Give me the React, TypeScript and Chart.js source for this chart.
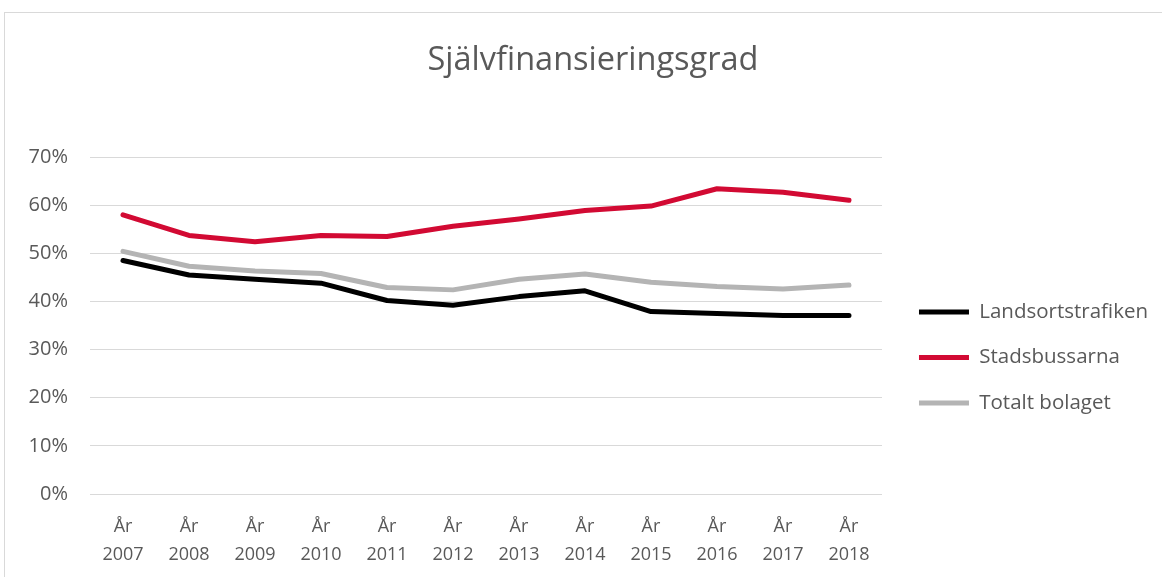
import React, { useEffect, useRef } from "react";
import { Chart, registerables } from "chart.js";

Chart.register(...registerables);

const categories: string[][] = [
  ["År", "2007"], ["År", "2008"], ["År", "2009"], ["År", "2010"],
  ["År", "2011"], ["År", "2012"], ["År", "2013"], ["År", "2014"],
  ["År", "2015"], ["År", "2016"], ["År", "2017"], ["År", "2018"],
];
const landsort = [48.5, 45.5, 44.6, 43.8, 40.2, 39.2, 41.0, 42.2, 37.9, 37.5, 37.1, 37.1];
const stadsbussarna = [58.0, 53.7, 52.4, 53.7, 53.5, 55.6, 57.1, 58.9, 59.8, 63.4, 62.7, 61.0];
const totalt = [50.4, 47.3, 46.3, 45.8, 42.9, 42.4, 44.6, 45.7, 44.0, 43.1, 42.6, 43.4];
const seriesNames = ["Landsortstrafiken", "Stadsbussarna", "Totalt bolaget"];
const seriesColors = ["#000000", "#d20a33", "#b4b4b4"];
const title = "Självfinansieringsgrad";

const FONT = "'Open Sans', sans-serif";
const TEXT = "#595959";
const LEGEND_PAD = 25;

// Centres the title over the whole canvas and moves the right-hand legend
// a little away from the plot and down, to match the layout.
const layoutTweak = {
  id: "layoutTweak",
  afterLayout(chart: any) {
    const t = chart.titleBlock;
    if (t) {
      t.left = 0;
      t.right = chart.width;
      t.width = chart.width;
    }
    const lg = chart.legend;
    if (!lg) return;
    const dx = 37 - LEGEND_PAD;
    const dy = 67;
    lg.left += dx;
    lg.right += dx;
    lg.top += dy;
    lg.bottom += dy;
  },
};

export default function App() {
  const ref = useRef<HTMLCanvasElement | null>(null);
  useEffect(() => {
    if (!ref.current) return;
    const data = [landsort, stadsbussarna, totalt];
    const chart = new Chart(ref.current, {
      type: "line",
      data: {
        labels: categories,
        datasets: seriesNames.map((name, i) => ({
          label: name,
          data: data[i],
          borderColor: seriesColors[i],
          backgroundColor: seriesColors[i],
          borderWidth: 5,
          borderCapStyle: "round" as const,
          borderJoinStyle: "round" as const,
          pointRadius: 0,
          pointHoverRadius: 0,
          tension: 0,
          pointStyle: "line" as const,
        })),
      },
      plugins: [layoutTweak],
      options: {
        animation: false,
        responsive: false,
        maintainAspectRatio: false,
        layout: { padding: { left: 0, right: 35, top: 0, bottom: 10 } },
        plugins: {
          tooltip: { enabled: false },
          title: {
            display: true,
            text: title,
            color: TEXT,
            font: { family: FONT, size: 32.5, weight: "normal" as const },
            padding: { top: 28, bottom: 77 },
          },
          legend: {
            position: "right",
            align: "center",
            labels: {
              usePointStyle: true,
              pointStyleWidth: 50,
              boxHeight: 5,
              color: TEXT,
              font: { family: FONT, size: 20.5 },
              padding: LEGEND_PAD,
            },
          },
        },
        scales: {
          x: {
            offset: true,
            grid: { display: false, drawTicks: false },
            border: { display: false },
            afterFit: (scale: any) => { scale.height = 74; },
            ticks: {
              color: TEXT,
              font: { family: FONT, size: 18, lineHeight: 1.56 },
              padding: 19,
              maxRotation: 0,
              autoSkip: false,
            },
          },
          y: {
            min: 0,
            max: 70,
            grid: { color: "#d9d9d9", lineWidth: 1, drawTicks: false },
            border: { display: false },
            afterFit: (scale: any) => { scale.width = 85; },
            ticks: {
              stepSize: 10,
              color: TEXT,
              font: { family: FONT, size: 20 },
              padding: 22,
              callback: (v: any) => v + "%",
            },
          },
        },
      },
    });
    return () => chart.destroy();
  }, []);
  return (
    <div
      style={{
        position: "absolute",
        left: 4,
        top: 12,
        width: 1158,
        height: 567,
        borderLeft: "1px solid #d9d9d9",
        borderTop: "1px solid #d9d9d9",
        borderBottom: "1px solid #d9d9d9",
        boxSizing: "border-box",
        background: "#fff",
        overflow: "hidden",
      }}
    >
      <canvas ref={ref} width={1176} height={565} style={{ display: "block" }} />
    </div>
  );
}
